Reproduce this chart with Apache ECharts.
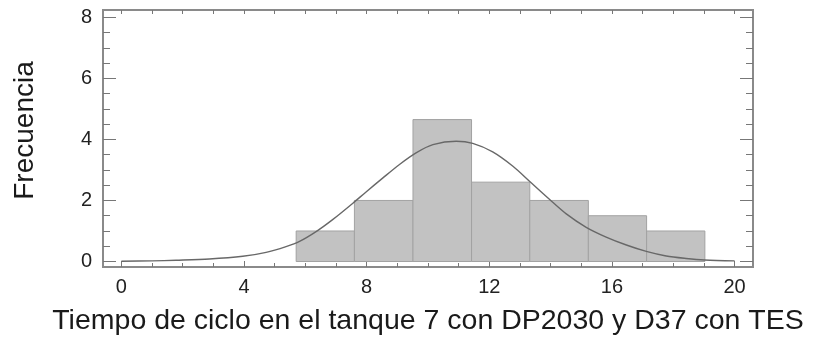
<!DOCTYPE html>
<html>
<head>
<meta charset="utf-8">
<script src="https://cdn.jsdelivr.net/npm/echarts@6/dist/echarts.min.js"></script>
<style>
html,body{margin:0;padding:0;background:#fff;}
#chart{width:814px;height:344px;}
</style>
</head>
<body>
<div id="chart"></div>
<script>
// Histogram bins (class limits) and frequencies
const binStart = [5.70, 7.60, 9.51, 11.42, 13.32, 15.23, 17.13];
const binEnd   = [7.60, 9.51, 11.42, 13.32, 15.23, 17.13, 19.03];
const freq     = [1, 2, 4.65, 2.6, 2, 1.5, 1];

// Fitted curve
const curveX = [0, 1, 1.78, 2.87, 3.96, 4.72, 5.37, 5.81, 6.35, 6.90, 7.55, 7.98, 8.53, 9.07, 9.61, 10.16, 10.92, 11.46, 12.11, 12.77, 13.31, 13.96, 14.51, 15.16, 15.81, 16.47, 17.12, 17.77, 18.42, 19.02, 20];
const curveY = [0.01, 0.02, 0.04, 0.08, 0.17, 0.30, 0.49, 0.66, 0.98, 1.38, 1.91, 2.28, 2.74, 3.18, 3.56, 3.83, 3.94, 3.87, 3.59, 3.12, 2.63, 2.04, 1.56, 1.12, 0.80, 0.54, 0.33, 0.18, 0.10, 0.05, 0.02];

// Tick labels
const xMajorTicks = [0, 4, 8, 12, 16, 20];
const xMinorTicks = [0,1,2,3,4,5,6,7,8,9,10,11,12,13,14,15,16,17,18,19,20];
const yMajorTicks = [0, 2, 4, 6, 8];
const yMinorTicks = [0,0.5,1,1.5,2,2.5,3,3.5,4,4.5,5,5.5,6,6.5,7,7.5,8];

const xName = 'Tiempo de ciclo en el tanque 7 con DP2030 y D37 con TES';
const yName = 'Frecuencia';

const XMIN = -0.6, XMAX = 20.6, YMIN = -0.18, YMAX = 8.24;
const frameColor = '#8a8a8a';
const font = '"Liberation Sans", Arial, sans-serif';

function xAx(pos, ticks, len, withLabels) {
  return {
    type: 'value', position: pos, min: XMIN, max: XMAX,
    name: withLabels ? xName : '',
    nameLocation: 'middle', nameGap: 40,
    nameTextStyle: {fontFamily: font, fontSize: 28.5, color: '#1a1a1a'},
    axisLine: {show: true, onZero: false, lineStyle: {color: frameColor, width: 2}},
    axisTick: {show: true, inside: true, length: len, customValues: ticks, lineStyle: {color: '#777', width: 1}},
    axisLabel: {show: withLabels, customValues: xMajorTicks, margin: 10, fontFamily: font, fontSize: 20, color: '#222'},
    splitLine: {show: false}
  };
}
function yAx(pos, ticks, len, withLabels) {
  return {
    type: 'value', position: pos, min: YMIN, max: YMAX,
    name: withLabels ? yName : '',
    nameLocation: 'middle', nameGap: 64, nameRotate: 90,
    nameTextStyle: {fontFamily: font, fontSize: 28, color: '#1a1a1a', padding: [0, 0, 0, 16]},
    axisLine: {show: true, onZero: false, lineStyle: {color: frameColor, width: 2}},
    axisTick: {show: true, inside: true, length: len, customValues: ticks, lineStyle: {color: '#777', width: 1}},
    axisLabel: {show: withLabels, customValues: yMajorTicks, margin: 11, fontFamily: font, fontSize: 20, color: '#222'},
    splitLine: {show: false}
  };
}

const chart = echarts.init(document.getElementById('chart'), null, {renderer: 'canvas'});
const barData = binStart.map((s, i) => [s, binEnd[i], freq[i]]);
const curveData = curveX.map((x, i) => [x, curveY[i]]);

chart.setOption({
  animation: false,
  backgroundColor: '#fff',
  grid: {left: 103, top: 10, right: 61, bottom: 77, containLabel: false},
  xAxis: [
    xAx('bottom', xMajorTicks, 6, true),
    xAx('top', xMajorTicks, 4, false),
    xAx('bottom', xMinorTicks, 4, false),
    xAx('top', xMinorTicks, 4, false)
  ],
  yAxis: [
    yAx('left', yMajorTicks, 13, true),
    yAx('right', yMajorTicks, 13, false),
    yAx('left', yMinorTicks, 7, false),
    yAx('right', yMinorTicks, 7, false)
  ],
  series: [
    {
      type: 'custom', xAxisIndex: 0, yAxisIndex: 0, data: barData,
      renderItem: function (params, api) {
        const p0 = api.coord([api.value(0), 0]);
        const p1 = api.coord([api.value(1), api.value(2)]);
        return {
          type: 'rect',
          shape: {x: p0[0], y: p1[1], width: p1[0] - p0[0], height: p0[1] - p1[1]},
          style: {fill: '#c2c2c2', stroke: '#a2a2a2', lineWidth: 1}
        };
      },
      encode: {x: [0, 1], y: 2}
    },
    {
      type: 'line', xAxisIndex: 0, yAxisIndex: 0, data: curveData,
      smooth: 0.3, showSymbol: false, symbol: 'none',
      lineStyle: {color: '#686868', width: 1.4}, z: 5
    }
  ]
});
</script>
</body>
</html>
